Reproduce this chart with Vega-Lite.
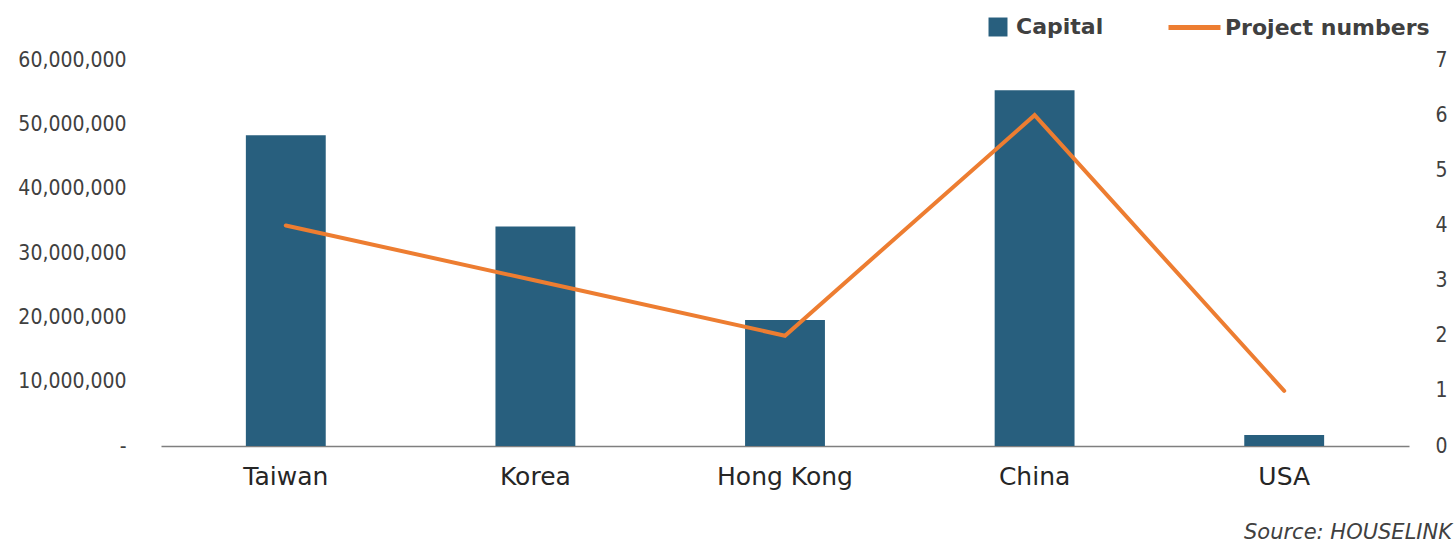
{
  "$schema": "https://vega.github.io/schema/vega-lite/v6.json",
  "autosize": {"type": "none"},
  "width": 1248,
  "height": 386,
  "padding": {"left": 161, "top": 60, "right": 47, "bottom": 97},
  "background": "white",
  "config": {"view": {"stroke": null}},
  "title": {
    "text": "Source: HOUSELINK",
    "orient": "bottom",
    "anchor": "end",
    "frame": "bounds",
    "font": "DejaVu Sans",
    "fontStyle": "italic",
    "fontWeight": "normal",
    "fontSize": 21,
    "color": "#404040",
    "offset": 33,
    "dx": 5
  },
  "data": {
    "values": [
      {"country": "Taiwan", "capital": 48300000, "projects": 4, "s1": "Capital", "s2": "Project numbers"},
      {"country": "Korea", "capital": 34100000, "projects": 3, "s1": "Capital", "s2": "Project numbers"},
      {"country": "Hong Kong", "capital": 19600000, "projects": 2, "s1": "Capital", "s2": "Project numbers"},
      {"country": "China", "capital": 55300000, "projects": 6, "s1": "Capital", "s2": "Project numbers"},
      {"country": "USA", "capital": 1700000, "projects": 1, "s1": "Capital", "s2": "Project numbers"}
    ]
  },
  "encoding": {
    "x": {
      "field": "country",
      "type": "nominal",
      "sort": null,
      "scale": {"paddingInner": 0, "paddingOuter": 0},
      "axis": {
        "title": null,
        "labelAngle": 0,
        "ticks": false,
        "domainColor": "#7f7f7f",
        "domainWidth": 1.5,
        "labelFont": "DejaVu Sans",
        "labelFontSize": 25,
        "labelColor": "#262626",
        "labelPadding": 18
      }
    }
  },
  "layer": [
    {
      "mark": {"type": "bar", "width": {"band": 0.32}, "color": "#285F7E"},
      "encoding": {
        "y": {
          "field": "capital",
          "type": "quantitative",
          "scale": {"domain": [0, 60000000], "nice": false},
          "axis": {
            "title": null,
            "values": [0, 10000000, 20000000, 30000000, 40000000, 50000000, 60000000],
            "labelExpr": "datum.value == 0 ? '-' : format(datum.value, ',')",
            "grid": false,
            "ticks": false,
            "domain": false,
            "labelFont": "DejaVu Sans Condensed, Roboto, sans-serif",
            "labelFontSize": 21,
            "labelColor": "#404040",
            "labelPadding": 35
          }
        },
        "fill": {
          "field": "s1",
          "type": "nominal",
          "scale": {"range": ["#285F7E"]},
          "legend": {
            "title": null,
            "orient": "none",
            "legendX": 826,
            "legendY": -44,
            "symbolType": "square",
            "symbolSize": 360,
            "labelFont": "DejaVu Sans",
            "labelFontWeight": "bold",
            "labelFontSize": 22,
            "labelColor": "#404040",
            "labelOffset": 7,
            "labelLimit": 300,
            "padding": 0
          }
        }
      }
    },
    {
      "mark": {"type": "line", "color": "#ED7D31", "strokeWidth": 4, "strokeCap": "round"},
      "encoding": {
        "y": {
          "field": "projects",
          "type": "quantitative",
          "scale": {"domain": [0, 7], "nice": false},
          "axis": {
            "orient": "right",
            "title": null,
            "values": [0, 1, 2, 3, 4, 5, 6, 7],
            "grid": false,
            "ticks": false,
            "domain": false,
            "labelFont": "DejaVu Sans Condensed, Roboto, sans-serif",
            "labelFontSize": 21,
            "labelColor": "#404040",
            "labelPadding": 26
          }
        },
        "stroke": {
          "field": "s2",
          "type": "nominal",
          "scale": {"range": ["#ED7D31"]},
          "legend": {
            "title": null,
            "orient": "none",
            "legendX": 1005,
            "legendY": -61,
            "symbolType": "stroke",
            "symbolSize": 2704,
            "symbolStrokeWidth": 5,
            "labelFont": "DejaVu Sans",
            "labelFontWeight": "bold",
            "labelFontSize": 22,
            "labelColor": "#404040",
            "labelOffset": 2,
            "labelLimit": 300,
            "padding": 0
          }
        }
      }
    }
  ],
  "resolve": {"scale": {"y": "independent", "fill": "independent", "stroke": "independent"}, "legend": {"fill": "independent", "stroke": "independent"}}
}
